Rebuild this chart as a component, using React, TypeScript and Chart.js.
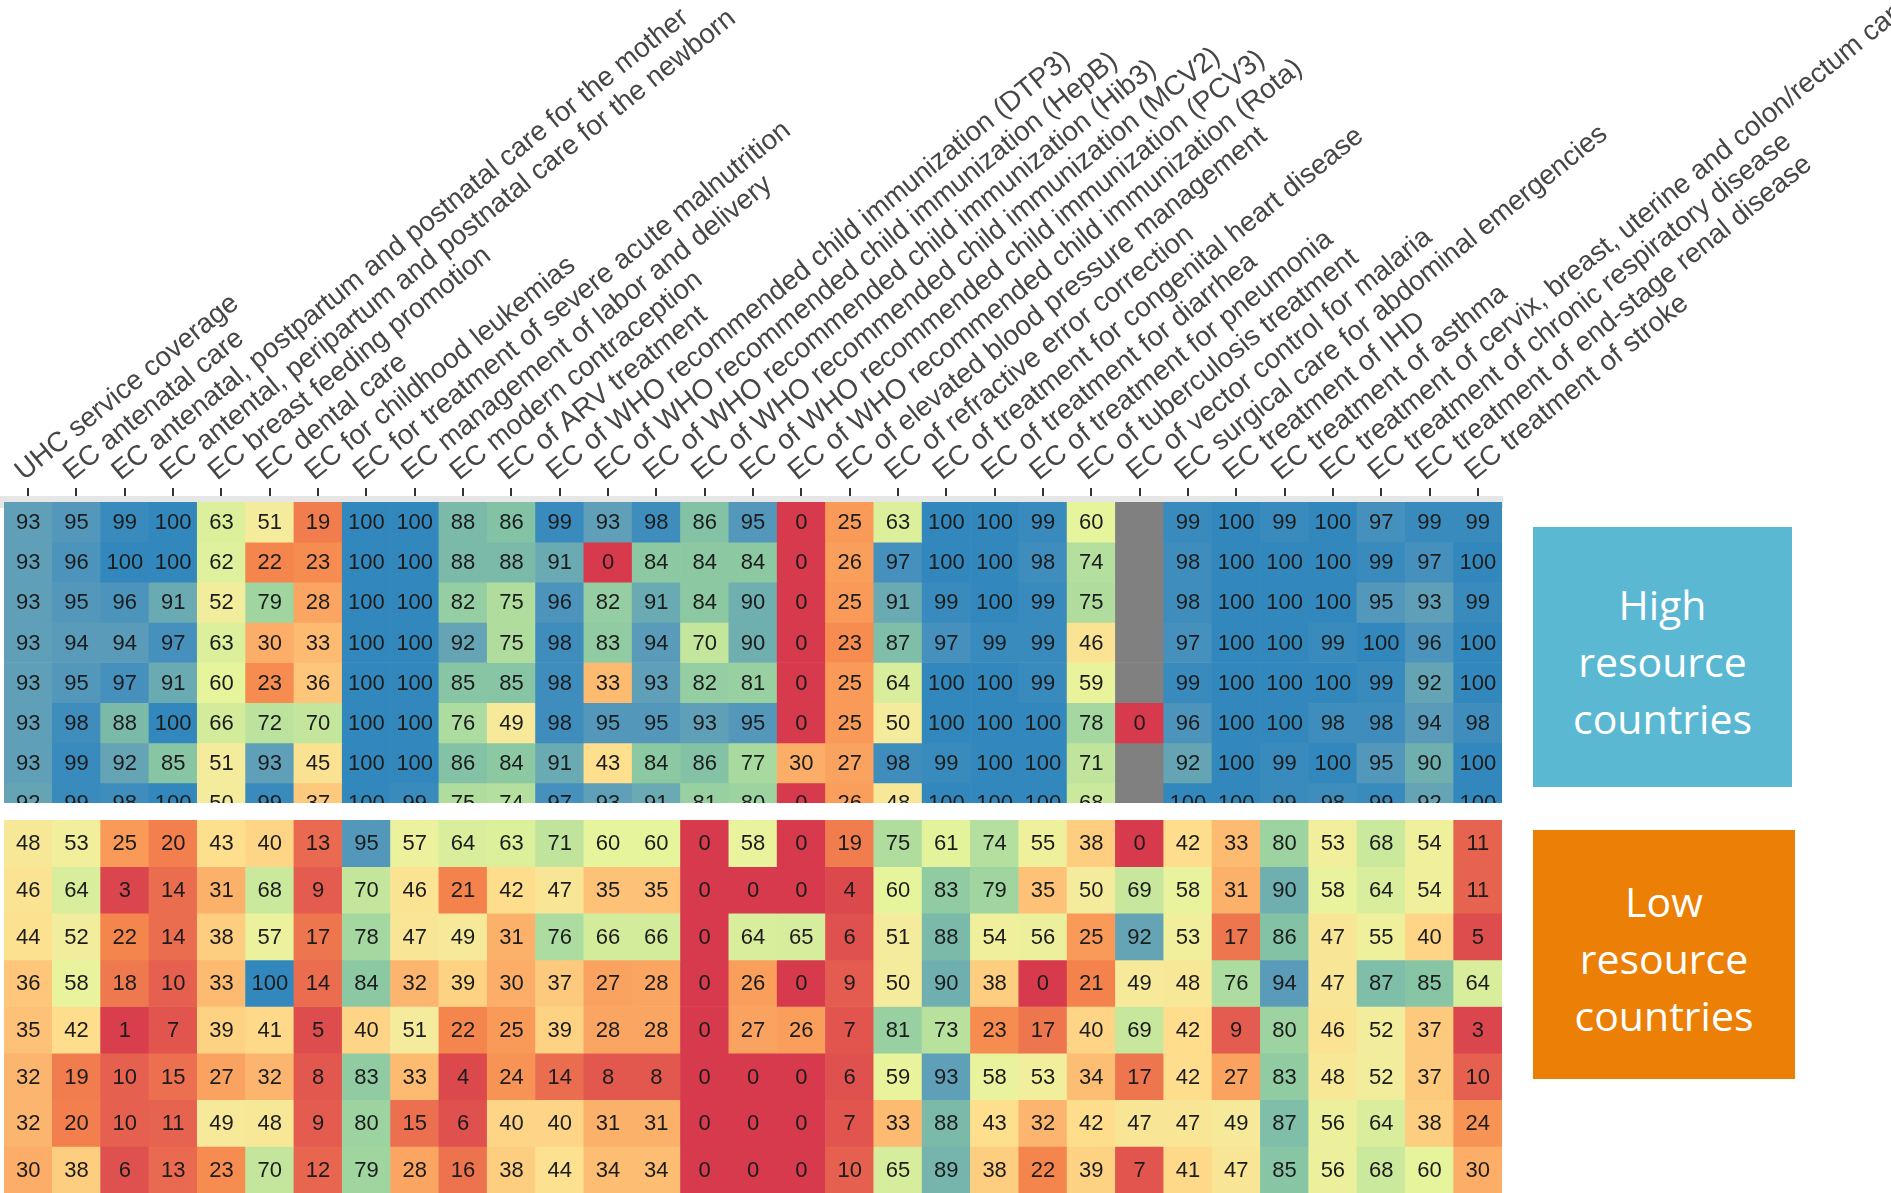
import React, { useEffect, useRef } from 'react';
import { Chart, registerables } from 'chart.js';

Chart.register(...registerables);

const columns: string[] = [
  'UHC service coverage',
  'EC antenatal care',
  'EC antenatal, postpartum and postnatal care for the mother',
  'EC antental, peripartum and postnatal care for the newborn',
  'EC breast feeding promotion',
  'EC dental care',
  'EC for childhood leukemias',
  'EC for treatment of severe acute malnutrition',
  'EC management of labor and delivery',
  'EC modern contraception',
  'EC of ARV treatment',
  'EC of WHO recommended child immunization (DTP3)',
  'EC of WHO recommended child immunization (HepB)',
  'EC of WHO recommended child immunization (Hib3)',
  'EC of WHO recommended child immunization (MCV2)',
  'EC of WHO recommended child immunization (PCV3)',
  'EC of WHO recommended child immunization (Rota)',
  'EC of elevated blood pressure management',
  'EC of refractive error correction',
  'EC of treatment for congenital heart disease',
  'EC of treatment for diarrhea',
  'EC of treatment for pneumonia',
  'EC of tuberculosis treatment',
  'EC of vector control for malaria',
  'EC surgical care for abdominal emergencies',
  'EC treatment of IHD',
  'EC treatment of asthma',
  'EC treatment of cervix, breast, uterine and colon/rectum cancer',
  'EC treatment of chronic respiratory disease',
  'EC treatment of end-stage renal disease',
  'EC treatment of stroke',
];

const highRow1 = [93, 95, 99, 100, 63, 51, 19, 100, 100, 88, 86, 99, 93, 98, 86, 95, 0, 25, 63, 100, 100, 99, 60, null, 99, 100, 99, 100, 97, 99, 99];
const highRow2 = [93, 96, 100, 100, 62, 22, 23, 100, 100, 88, 88, 91, 0, 84, 84, 84, 0, 26, 97, 100, 100, 98, 74, null, 98, 100, 100, 100, 99, 97, 100];
const highRow3 = [93, 95, 96, 91, 52, 79, 28, 100, 100, 82, 75, 96, 82, 91, 84, 90, 0, 25, 91, 99, 100, 99, 75, null, 98, 100, 100, 100, 95, 93, 99];
const highRow4 = [93, 94, 94, 97, 63, 30, 33, 100, 100, 92, 75, 98, 83, 94, 70, 90, 0, 23, 87, 97, 99, 99, 46, null, 97, 100, 100, 99, 100, 96, 100];
const highRow5 = [93, 95, 97, 91, 60, 23, 36, 100, 100, 85, 85, 98, 33, 93, 82, 81, 0, 25, 64, 100, 100, 99, 59, null, 99, 100, 100, 100, 99, 92, 100];
const highRow6 = [93, 98, 88, 100, 66, 72, 70, 100, 100, 76, 49, 98, 95, 95, 93, 95, 0, 25, 50, 100, 100, 100, 78, 0, 96, 100, 100, 98, 98, 94, 98];
const highRow7 = [93, 99, 92, 85, 51, 93, 45, 100, 100, 86, 84, 91, 43, 84, 86, 77, 30, 27, 98, 99, 100, 100, 71, null, 92, 100, 99, 100, 95, 90, 100];
const highRow8 = [92, 99, 98, 100, 50, 99, 37, 100, 99, 75, 74, 97, 93, 91, 81, 80, 0, 26, 48, 100, 100, 100, 68, null, 100, 100, 99, 98, 99, 92, 100];

const lowRow1 = [48, 53, 25, 20, 43, 40, 13, 95, 57, 64, 63, 71, 60, 60, 0, 58, 0, 19, 75, 61, 74, 55, 38, 0, 42, 33, 80, 53, 68, 54, 11];
const lowRow2 = [46, 64, 3, 14, 31, 68, 9, 70, 46, 21, 42, 47, 35, 35, 0, 0, 0, 4, 60, 83, 79, 35, 50, 69, 58, 31, 90, 58, 64, 54, 11];
const lowRow3 = [44, 52, 22, 14, 38, 57, 17, 78, 47, 49, 31, 76, 66, 66, 0, 64, 65, 6, 51, 88, 54, 56, 25, 92, 53, 17, 86, 47, 55, 40, 5];
const lowRow4 = [36, 58, 18, 10, 33, 100, 14, 84, 32, 39, 30, 37, 27, 28, 0, 26, 0, 9, 50, 90, 38, 0, 21, 49, 48, 76, 94, 47, 87, 85, 64];
const lowRow5 = [35, 42, 1, 7, 39, 41, 5, 40, 51, 22, 25, 39, 28, 28, 0, 27, 26, 7, 81, 73, 23, 17, 40, 69, 42, 9, 80, 46, 52, 37, 3];
const lowRow6 = [32, 19, 10, 15, 27, 32, 8, 83, 33, 4, 24, 14, 8, 8, 0, 0, 0, 6, 59, 93, 58, 53, 34, 17, 42, 27, 83, 48, 52, 37, 10];
const lowRow7 = [32, 20, 10, 11, 49, 48, 9, 80, 15, 6, 40, 40, 31, 31, 0, 0, 0, 7, 33, 88, 43, 32, 42, 47, 47, 49, 87, 56, 64, 38, 24];
const lowRow8 = [30, 38, 6, 13, 23, 70, 12, 79, 28, 16, 38, 44, 34, 34, 0, 0, 0, 10, 65, 89, 38, 22, 39, 7, 41, 47, 85, 56, 68, 60, 30];

const highRows = [highRow1, highRow2, highRow3, highRow4, highRow5, highRow6, highRow7, highRow8];
const lowRows = [lowRow1, lowRow2, lowRow3, lowRow4, lowRow5, lowRow6, lowRow7, lowRow8];

const highBoxLines = ['High', 'resource', 'countries'];
const lowBoxLines = ['Low', 'resource', 'countries'];

const GRAY = '#808080';
const STOPS: [number, string][] = [
  [0, '#d63a4c'],
  [10, '#e5604f'],
  [15, '#ec7050'],
  [22, '#f4854c'],
  [25, '#f99a59'],
  [30, '#fcad68'],
  [36, '#fdc67a'],
  [42, '#fedd8c'],
  [50, '#f5eb9c'],
  [60, '#e6f49c'],
  [70, '#c4e69c'],
  [77, '#a8da9f'],
  [84, '#8cc9a3'],
  [88, '#7bbaa9'],
  [93, '#5f9fb8'],
  [97, '#4690bd'],
  [100, '#3288bd'],
];

function hexToRgb(h: string): number[] {
  const n = parseInt(h.slice(1), 16);
  return [(n >> 16) & 255, (n >> 8) & 255, n & 255];
}

function valueColor(v: number): string {
  for (let i = 0; i < STOPS.length - 1; i++) {
    const [a, ca] = STOPS[i];
    const [b, cb] = STOPS[i + 1];
    if (v <= b) {
      const t = (v - a) / (b - a);
      const A = hexToRgb(ca);
      const B = hexToRgb(cb);
      const c = A.map((x, k) => Math.round(x + (B[k] - x) * t));
      return `rgb(${c[0]},${c[1]},${c[2]})`;
    }
  }
  return STOPS[STOPS.length - 1][1];
}

function makeDatasets(rows: (number | null)[][]) {
  return rows.map((row, i) => ({
    label: `row ${i + 1}`,
    data: row.map(() => [i, i + 1]),
    backgroundColor: row.map((v) => (v == null ? GRAY : valueColor(v))),
    borderWidth: 0,
    barPercentage: 1,
    categoryPercentage: 1,
    grouped: false,
  }));
}

function cellTextPlugin(rows: (number | null)[][]) {
  return {
    id: 'cellText',
    afterDatasetsDraw(chart: any) {
      const ctx = chart.ctx as CanvasRenderingContext2D;
      const { left, top, right, bottom } = chart.chartArea;
      ctx.save();
      ctx.beginPath();
      ctx.rect(left, top, right - left, bottom - top);
      ctx.clip();
      ctx.font = "22px 'Liberation Sans', Arial, sans-serif";
      ctx.fillStyle = '#1c1c1c';
      ctx.textAlign = 'center';
      ctx.textBaseline = 'middle';
      rows.forEach((row, i) => {
        const meta = chart.getDatasetMeta(i);
        meta.data.forEach((el: any, j: number) => {
          const v = row[j];
          if (v == null) return;
          const p = el.getProps(['x', 'y', 'base'], true);
          ctx.fillText(String(v), p.x, (p.y + p.base) / 2 + 1);
        });
      });
      ctx.restore();
    },
  };
}

const FONT = "'Liberation Sans', Arial, sans-serif";

function TopHeatmap() {
  const ref = useRef<HTMLCanvasElement>(null);
  useEffect(() => {
    if (!ref.current) return;
    const chart = new Chart(ref.current, {
      type: 'bar',
      data: { labels: columns, datasets: makeDatasets(highRows) as any },
      options: {
        responsive: false,
        animation: false,
        events: [],
        layout: { padding: { left: 4, right: 389, top: 0, bottom: 0 } },
        plugins: { legend: { display: false }, tooltip: { enabled: false } },
        scales: {
          x: {
            type: 'category',
            position: 'top',
            offset: true,
            grid: {
              display: true,
              offset: false,
              drawOnChartArea: false,
              drawTicks: true,
              tickLength: 14,
              color: '#333333',
              lineWidth: 2,
            },
            border: { display: true, color: '#e6e6e6', width: 12 },
            ticks: {
              autoSkip: false,
              minRotation: 39,
              maxRotation: 39,
              padding: 0,
              labelOffset: 12,
              color: '#464646',
              font: { family: FONT, size: 27.8 },
            },
            afterFit: (s: any) => {
              s.paddingLeft = 0;
              s.paddingRight = 0;
              s.height = 502;
            },
          },
          y: { type: 'linear', display: false, min: 0, max: 7.5, reverse: true },
        },
      } as any,
      plugins: [cellTextPlugin(highRows)],
    });
    return () => chart.destroy();
  }, []);
  return (
    <canvas
      ref={ref}
      width={1891}
      height={803}
      style={{ position: 'absolute', left: 0, top: 0, width: 1891, height: 803, display: 'block' }}
    />
  );
}

function BottomHeatmap() {
  const ref = useRef<HTMLCanvasElement>(null);
  useEffect(() => {
    if (!ref.current) return;
    const chart = new Chart(ref.current, {
      type: 'bar',
      data: { labels: columns, datasets: makeDatasets(lowRows) as any },
      options: {
        responsive: false,
        animation: false,
        events: [],
        layout: { padding: { left: 4, right: 0, top: 0, bottom: 0 } },
        plugins: { legend: { display: false }, tooltip: { enabled: false } },
        scales: {
          x: { type: 'category', display: false, offset: true },
          y: { type: 'linear', display: false, min: 0, max: 8, reverse: true },
        },
      } as any,
      plugins: [cellTextPlugin(lowRows)],
    });
    return () => chart.destroy();
  }, []);
  return (
    <canvas
      ref={ref}
      width={1502}
      height={373}
      style={{ position: 'absolute', left: 0, top: 820, width: 1502, height: 373, display: 'block' }}
    />
  );
}

function SideBox(props: { lines: string[]; bg: string; left: number; top: number; width: number; height: number }) {
  const { lines, bg, left, top, width, height } = props;
  return (
    <div
      style={{
        position: 'absolute',
        left,
        top,
        width,
        height,
        boxSizing: 'border-box',
        paddingTop: 8,
        background: bg,
        color: '#ffffff',
        display: 'flex',
        flexDirection: 'column',
        justifyContent: 'center',
        alignItems: 'center',
        fontFamily: "'Open Sans', 'Noto Sans', sans-serif",
        fontSize: 41,
        lineHeight: '57px',
        textAlign: 'center',
      }}
    >
      {lines.map((l, i) => (
        <div key={i}>{l}</div>
      ))}
    </div>
  );
}

export default function App() {
  return (
    <div
      style={{
        position: 'fixed',
        left: 0,
        top: 0,
        width: 1891,
        height: 1193,
        background: '#ffffff',
        overflow: 'hidden',
      }}
    >
      <TopHeatmap />
      <BottomHeatmap />
      <SideBox lines={highBoxLines} bg="#5bb8d3" left={1533} top={527} width={259} height={260} />
      <SideBox lines={lowBoxLines} bg="#ec7f06" left={1533} top={830} width={262} height={249} />
    </div>
  );
}
